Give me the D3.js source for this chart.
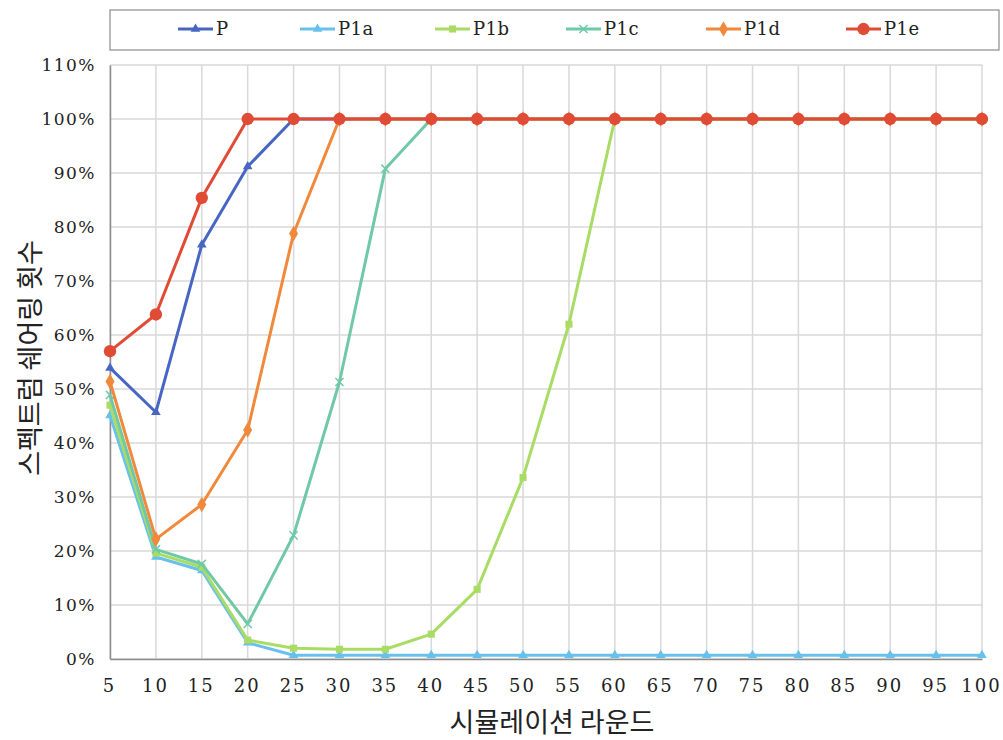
<!DOCTYPE html>
<html>
<head>
<meta charset="utf-8">
<script src="https://cdn.jsdelivr.net/npm/d3@7"></script>
<style>
  body { margin: 0; background: #fff; }
  svg { display: block; }
</style>
</head>
<body>
<div id="chart"></div>
<script>
  // Simulation rounds (x categories)
  var rounds = [5, 10, 15, 20, 25, 30, 35, 40, 45, 50, 55, 60, 65, 70, 75, 80, 85, 90, 95, 100];

  // Series values (fraction of 1)
  var P   = [0.539, 0.457, 0.767, 0.912, 1, 1, 1, 1, 1, 1, 1, 1, 1, 1, 1, 1, 1, 1, 1, 1];
  var P1a = [0.451, 0.189, 0.164, 0.030, 0.007, 0.007, 0.007, 0.007, 0.007, 0.007, 0.007, 0.007, 0.007, 0.007, 0.007, 0.007, 0.007, 0.007, 0.007, 0.007];
  var P1b = [0.470, 0.196, 0.170, 0.035, 0.020, 0.018, 0.018, 0.046, 0.129, 0.336, 0.620, 1, 1, 1, 1, 1, 1, 1, 1, 1];
  var P1c = [0.489, 0.203, 0.176, 0.065, 0.229, 0.513, 0.908, 1, 1, 1, 1, 1, 1, 1, 1, 1, 1, 1, 1, 1];
  var P1d = [0.514, 0.222, 0.286, 0.424, 0.788, 1, 1, 1, 1, 1, 1, 1, 1, 1, 1, 1, 1, 1, 1, 1];
  var P1e = [0.570, 0.638, 0.854, 1, 1, 1, 1, 1, 1, 1, 1, 1, 1, 1, 1, 1, 1, 1, 1, 1];

  var seriesNames = ['P', 'P1a', 'P1b', 'P1c', 'P1d', 'P1e'];
  var seriesValues = [P, P1a, P1b, P1c, P1d, P1e];
  var yTicks = [0, 0.1, 0.2, 0.3, 0.4, 0.5, 0.6, 0.7, 0.8, 0.9, 1.0, 1.1];

  var COLORS = ['#4766c4', '#68c1ec', '#a8dc64', '#6fc9a6', '#f0893c', '#e04b35'];
  var SYMBOLS = ['triangle', 'triangle', 'square', 'cross', 'diamond', 'circle'];

  var W = 1003, H = 740;
  var margin = { top: 65, right: 21, bottom: 81, left: 110 };
  var serif = '"DejaVu Serif", "Liberation Serif", serif';
  var kfont = '"Noto Sans CJK KR", "Noto Sans", sans-serif';

  var svg = d3.select('#chart').append('svg')
    .attr('width', W)
    .attr('height', H);

  var x = d3.scaleLinear().domain([5, 100]).range([margin.left, W - margin.right]);
  var y = d3.scaleLinear().domain([0, 1.1]).range([H - margin.bottom, margin.top]);

  function symbolFor(k) {
    var t = SYMBOLS[k];
    return d3.symbol()
      .type(t === 'triangle' ? d3.symbolTriangle :
            t === 'square' ? d3.symbolSquare :
            t === 'cross' ? d3.symbolX :
            t === 'diamond' ? d3.symbolDiamond : d3.symbolCircle)
      .size([40, 40, 50, 45, 70, 120][k]);
  }

  // Gridlines
  var grid = svg.append('g');
  grid.selectAll('.hgrid')
    .data(yTicks)
    .join('line')
    .attr('x1', x(5)).attr('x2', x(100))
    .attr('y1', function (d) { return y(d); })
    .attr('y2', function (d) { return y(d); })
    .attr('stroke', '#d9d9d9')
    .attr('stroke-width', 1.5);
  grid.selectAll('.vgrid')
    .data(rounds)
    .join('line')
    .attr('x1', function (d) { return x(d); })
    .attr('x2', function (d) { return x(d); })
    .attr('y1', y(0)).attr('y2', y(1.1))
    .attr('stroke', '#d9d9d9')
    .attr('stroke-width', 1.5);

  // Axes
  var yAxis = svg.append('g')
    .attr('transform', 'translate(' + x(5) + ',0)')
    .call(d3.axisLeft(y).tickValues(yTicks).tickSize(0).tickPadding(14)
      .tickFormat(function (d) { return Math.round(d * 100) + '%'; }));
  yAxis.select('.domain').attr('stroke', '#8c8c8c').attr('stroke-width', 1.5);
  yAxis.selectAll('text')
    .attr('font-family', serif).attr('font-size', '17px')
    .attr('letter-spacing', '1.5px').attr('fill', '#222');

  var xAxis = svg.append('g')
    .attr('transform', 'translate(0,' + y(0) + ')')
    .call(d3.axisBottom(x).tickValues(rounds).tickSize(0).tickPadding(20).tickFormat(d3.format('d')));
  xAxis.select('.domain').attr('stroke', '#8c8c8c').attr('stroke-width', 1.5);
  xAxis.selectAll('text')
    .attr('font-family', serif).attr('font-size', '18px')
    .attr('letter-spacing', '2px').attr('dx', '-1px').attr('fill', '#222');

  // Lines and markers
  var line = d3.line()
    .x(function (d, i) { return x(rounds[i]); })
    .y(function (d) { return y(d); });

  seriesValues.forEach(function (vals, k) {
    var gS = svg.append('g');
    gS.append('path')
      .datum(vals)
      .attr('d', line)
      .attr('fill', 'none')
      .attr('stroke', COLORS[k])
      .attr('stroke-width', 3)
      .attr('stroke-linejoin', 'round');
    gS.selectAll('path.mk')
      .data(vals)
      .join('path')
      .attr('class', 'mk')
      .attr('transform', function (d, i) { return 'translate(' + x(rounds[i]) + ',' + y(d) + ')'; })
      .attr('d', symbolFor(k))
      .attr('fill', SYMBOLS[k] === 'cross' ? 'none' : COLORS[k])
      .attr('stroke', SYMBOLS[k] === 'cross' ? COLORS[k] : 'none')
      .attr('stroke-width', 1.5);
  });

  // Axis titles
  svg.append('text')
    .attr('x', (x(5) + x(100)) / 2 + 6)
    .attr('y', 732)
    .attr('text-anchor', 'middle')
    .attr('font-family', kfont)
    .attr('font-size', '27px')
    .attr('fill', '#222')
    .text('시뮬레이션 라운드');

  svg.append('text')
    .attr('transform', 'translate(40,358) rotate(-90)')
    .attr('text-anchor', 'middle')
    .attr('font-family', kfont)
    .attr('font-size', '27px')
    .attr('fill', '#222')
    .text('스펙트럼 쉐어링 횟수');

  // Legend
  var legend = svg.append('g');
  legend.append('rect')
    .attr('x', 110).attr('y', 10)
    .attr('width', 889).attr('height', 40)
    .attr('fill', '#fff')
    .attr('stroke', '#8c8c8c')
    .attr('stroke-width', 1.2);

  var legendX = [178, 300, 435, 566, 706, 846];
  seriesNames.forEach(function (name, k) {
    var lg = legend.append('g').attr('transform', 'translate(' + legendX[k] + ',29)');
    lg.append('line')
      .attr('x1', 0).attr('x2', 35)
      .attr('stroke', COLORS[k])
      .attr('stroke-width', 3);
    lg.append('path')
      .attr('transform', 'translate(17.5,0)')
      .attr('d', symbolFor(k))
      .attr('fill', SYMBOLS[k] === 'cross' ? 'none' : COLORS[k])
      .attr('stroke', SYMBOLS[k] === 'cross' ? COLORS[k] : 'none')
      .attr('stroke-width', 1.5);
    lg.append('text')
      .attr('x', 38).attr('y', 6)
      .attr('font-family', serif)
      .attr('font-size', '18px')
      .attr('letter-spacing', '0.5px')
      .attr('fill', '#222')
      .text(name);
  });
</script>
</body>
</html>
